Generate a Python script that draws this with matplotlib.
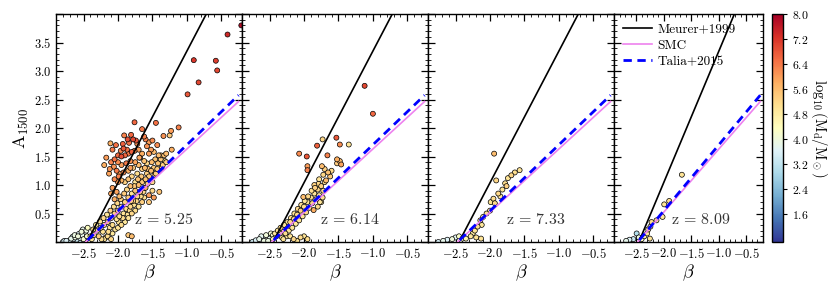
#!/usr/bin/env python3
"""A_1500 vs beta for four redshifts, coloured by dust mass."""

import matplotlib
matplotlib.use("Agg")
import matplotlib.pyplot as plt
import numpy as np
from matplotlib.ticker import FuncFormatter, MultipleLocator

plt.rcParams["mathtext.fontset"] = "cm"
plt.rcParams["font.family"] = ["cmr10", "DejaVu Serif"]
plt.rcParams["axes.unicode_minus"] = False

REDSHIFTS = ["5.25", "6.14", "7.33", "8.09"]

# ---- z = 5.25 ----
beta_z525 = [
    -0.41, -0.90, -0.58, -0.56, -0.83, -0.99, -0.21,
    -1.76, -1.45, -1.12, -1.65, -1.23, -1.34, -1.25, -1.91, -1.81, -1.78, -1.74, -1.84, -2.11,
    -1.60, -1.55, -1.50, -1.43, -1.96, -1.92, -2.00, -1.95, -1.90, -1.85, -1.80, -1.76, -1.70,
    -1.65, -1.55, -1.48, -1.38, -1.30, -1.22, -2.20, -2.10, -2.05, -2.00, -1.95, -1.88, -1.82,
    -1.75, -2.12, -2.02, -1.98, -1.92, -1.85, -2.05, -2.00, -1.95, -2.08, -2.02, -1.98, -2.05,
    -1.55, -1.48, -1.40, -1.60,
    -2.17, -2.13, -2.08, -2.03, -1.99, -1.93, -1.87, -1.86, -1.82, -1.72, -1.69, -1.58, -1.52,
    -2.06, -2.10, -1.62,
    -2.40, -2.35, -2.38, -2.30, -2.28, -2.25, -2.22, -2.20, -2.18, -2.15, -2.12, -2.10, -2.08,
    -2.05, -2.02, -2.00, -1.98, -1.95, -1.92, -1.90, -1.88, -1.85, -1.82, -1.80, -1.78, -1.75,
    -1.72, -1.70, -1.68, -1.65, -1.62, -1.60, -1.58, -1.55, -1.52, -1.50, -1.48, -1.45, -1.42,
    -1.40, -1.38, -1.35, -1.32,
    -2.36, -2.32, -2.26, -2.24, -2.21, -2.16, -2.14, -2.11, -2.06, -2.04, -2.01, -1.99, -1.96,
    -1.93, -1.91, -1.87, -1.86, -1.83, -1.81, -1.77, -1.76, -1.73, -1.71, -1.67, -1.66, -1.63,
    -1.61, -1.57, -1.56, -1.53, -1.51, -1.47, -1.46, -1.43, -1.41, -1.37, -1.33, -1.30,
    -1.90, -1.85, -1.80, -1.78, -1.72, -1.70, -1.65, -1.62, -1.68, -1.58, -1.75, -1.82,
    -2.00, -1.95, -1.90, -1.85, -1.80, -1.75, -1.70, -1.65, -1.62, -1.55, -1.50, -2.15, -2.08,
    -1.85, -1.80, -2.20, -2.10,
    -2.80, -2.75, -2.70, -2.68, -2.65, -2.62, -2.60, -2.58, -2.55, -2.52, -2.50, -2.48, -2.46,
    -2.45, -2.42, -2.72, -2.78, -2.66, -2.63, -2.57, -2.53, -2.51, -2.44, -2.43, -2.56, -2.49,
]
a_z525 = [
    3.64, 3.19, 3.18, 3.01, 2.80, 2.59, 3.80,
    2.10, 2.09, 2.01, 1.98, 1.95, 1.86, 1.87, 1.87, 1.88, 1.80, 1.78, 1.74, 1.73,
    1.80, 1.75, 1.78, 1.70, 1.60, 1.64, 1.52, 1.50, 1.52, 1.55, 1.58, 1.60, 1.62,
    1.55, 1.55, 1.58, 1.52, 1.55, 1.62, 1.35, 1.40, 1.45, 1.40, 1.35, 1.38, 1.42,
    1.40, 1.28, 1.25, 1.20, 1.22, 1.25, 1.10, 1.05, 1.08, 0.95, 0.88, 0.80, 0.75,
    0.82, 0.78, 0.88, 0.95,
    1.48, 1.20, 1.62, 1.70, 1.15, 1.72, 1.62, 1.80, 1.30, 1.72, 1.48, 1.68, 1.62,
    1.32, 0.85, 1.85,
    0.10, 0.12, 0.05, 0.20, 0.10, 0.25, 0.18, 0.30, 0.08, 0.35, 0.25, 0.42, 0.30,
    0.50, 0.40, 0.55, 0.45, 0.62, 0.50, 0.70, 0.58, 0.78, 0.62, 0.85, 0.72, 0.90,
    0.80, 1.00, 0.88, 1.05, 0.95, 1.10, 1.20, 1.15, 1.25, 1.05, 1.30, 1.20, 1.38,
    1.25, 1.45, 1.35, 1.42,
    0.22, 0.30, 0.36, 0.05, 0.42, 0.48, 0.18, 0.55, 0.62, 0.22, 0.68, 0.35, 0.75,
    0.42, 0.85, 0.92, 0.48, 0.55, 0.72, 0.65, 0.98, 0.72, 1.10, 0.80, 1.15, 0.88,
    1.30, 1.02, 1.28, 1.10, 1.40, 1.18, 1.45, 1.28, 1.52, 1.30, 1.52, 1.40,
    1.05, 1.10, 1.15, 1.30, 1.20, 1.35, 1.28, 1.42, 1.48, 1.38, 1.05, 0.98,
    0.25, 0.30, 0.35, 0.42, 0.50, 0.55, 0.62, 0.70, 0.78, 0.70, 0.90, 0.10, 0.15,
    0.12, 0.10, 0.05, 0.05,
    0.00, 0.02, 0.03, 0.06, 0.05, 0.08, 0.04, 0.10, 0.07, 0.12, 0.05, 0.15, 0.20,
    0.10, 0.08, 0.00, 0.02, 0.09, 0.12, 0.14, 0.18, 0.22, 0.25, 0.02, 0.02, 0.10,
]
m_z525 = [
    7.4, 7.2, 7.1, 7.0, 7.0, 6.8, 7.8,
    6.6, 6.5, 6.3, 6.4, 6.0, 6.1, 5.4, 6.3, 6.6, 7.0, 6.8, 6.5, 5.8,
    6.3, 6.0, 6.2, 6.2, 6.3, 6.8, 6.6, 6.9, 6.6, 6.4, 6.7, 6.2, 6.0,
    5.8, 6.0, 5.6, 5.4, 5.6, 5.8, 5.8, 6.3, 6.5, 6.2, 6.0, 6.4, 6.1,
    5.9, 6.1, 6.4, 6.0, 6.2, 5.8, 6.2, 6.0, 5.7, 6.0, 5.9, 5.6, 5.8,
    6.0, 6.0, 5.5, 5.8,
    6.0, 5.9, 6.4, 6.5, 6.3, 6.7, 6.5, 6.9, 6.0, 6.1, 5.9, 6.1, 6.0,
    6.1, 5.9, 6.3,
    5.0, 5.2, 4.9, 5.0, 5.3, 5.1, 5.0, 5.2, 5.0, 5.4, 5.0, 5.2, 5.1,
    5.3, 5.0, 5.4, 5.1, 5.2, 5.0, 5.3, 5.1, 5.4, 5.2, 5.0, 5.3, 5.5,
    5.2, 5.6, 5.3, 5.4, 5.2, 5.5, 5.3, 5.4, 5.6, 5.2, 5.4, 5.3, 5.5,
    5.2, 5.4, 5.3, 5.1,
    5.1, 4.9, 5.0, 5.1, 5.2, 5.0, 5.1, 5.3, 5.1, 5.0, 5.2, 5.0, 5.3,
    5.1, 5.4, 5.2, 5.0, 5.1, 5.3, 5.0, 5.4, 5.2, 5.5, 5.1, 5.4, 5.2,
    5.6, 5.3, 5.5, 5.2, 5.6, 5.3, 5.5, 5.4, 5.6, 5.2, 5.5, 5.3,
    5.3, 5.5, 5.2, 5.4, 5.1, 5.6, 5.3, 5.5, 5.7, 5.2, 5.0, 5.6,
    5.0, 5.1, 4.9, 5.0, 5.2, 5.1, 5.0, 5.3, 5.1, 5.4, 5.2, 5.1, 4.9,
    5.4, 5.6, 5.0, 5.2,
    3.4, 3.6, 3.2, 3.8, 3.5, 3.9, 3.3, 4.0, 3.6, 3.8, 4.1, 3.7, 3.9,
    4.2, 4.0, 3.0, 3.5, 3.4, 3.9, 3.6, 4.0, 3.8, 4.3, 4.0, 3.2, 3.5,
]

# ---- z = 6.14 ----
beta_z614 = [
    -1.12, -1.00, -1.53, -1.73, -1.81, -1.48, -1.35, -2.07, -1.96, -1.66, -1.52, -1.48, -1.52,
    -1.46, -1.95, -1.95, -1.74, -1.70, -1.65, -1.72, -1.62, -1.68, -1.78, -1.85, -1.60, -2.01,
    -1.86,
    -2.45, -2.40, -2.35, -2.32, -2.30, -2.27, -2.25, -2.22, -2.20, -2.17, -2.15, -2.12, -2.10,
    -2.07, -2.05, -2.02, -2.00, -1.97, -1.95, -1.92, -1.90, -1.88, -1.85, -1.82, -1.80, -1.78,
    -1.75, -1.72, -1.80, -1.75, -2.20, -2.15, -2.10, -2.05,
    -2.42, -2.38, -2.34, -2.29, -2.24, -2.19, -2.14, -2.09, -2.04, -1.99, -1.94, -1.89, -1.84,
    -1.79, -1.77, -1.73, -1.70, -2.30, -2.25, -2.00, -1.95,
    -2.75, -2.70, -2.65, -2.60, -2.58, -2.55, -2.50, -2.48, -2.62, -2.52, -2.45, -2.68,
]
a_z614 = [
    2.74, 2.25, 1.83, 1.80, 1.69, 1.71, 1.71, 1.55, 1.50, 1.52, 1.45, 1.42, 1.38,
    1.36, 1.33, 1.26, 1.33, 1.28, 1.22, 1.18, 1.15, 1.08, 1.10, 1.00, 1.25, 0.79,
    0.56,
    0.05, 0.10, 0.15, 0.08, 0.22, 0.15, 0.28, 0.20, 0.35, 0.25, 0.40, 0.32, 0.48,
    0.38, 0.55, 0.45, 0.62, 0.52, 0.70, 0.60, 0.78, 0.68, 0.85, 0.75, 0.92, 0.82,
    0.98, 0.90, 0.62, 0.70, 0.10, 0.05, 0.02, 0.08,
    0.15, 0.20, 0.25, 0.30, 0.35, 0.42, 0.50, 0.58, 0.65, 0.72, 0.80, 0.90, 0.95,
    1.02, 0.70, 0.78, 1.05, 0.05, 0.10, 0.10, 0.05,
    0.00, 0.03, 0.05, 0.08, 0.02, 0.12, 0.06, 0.15, 0.10, 0.02, 0.12, 0.00,
]
m_z614 = [
    7.0, 6.6, 6.8, 5.2, 6.7, 6.2, 5.0, 6.2, 6.8, 6.3, 5.8, 5.6, 5.4,
    5.9, 6.0, 6.3, 5.6, 5.3, 5.5, 5.2, 5.4, 5.6, 5.0, 5.3, 5.2, 5.6,
    5.8,
    4.6, 4.8, 5.0, 4.9, 5.0, 5.1, 4.9, 5.0, 5.2, 5.0, 5.1, 4.9, 5.2,
    5.0, 5.3, 5.0, 5.1, 5.2, 5.0, 5.3, 5.1, 5.2, 5.0, 5.4, 5.2, 5.0,
    5.3, 5.1, 5.2, 5.0, 5.0, 5.2, 5.0, 5.1,
    4.9, 5.0, 5.1, 5.0, 4.9, 5.1, 5.0, 5.2, 5.1, 5.0, 5.2, 5.1, 5.3,
    5.2, 5.0, 5.1, 5.2, 5.0, 4.9, 5.0, 5.1,
    3.4, 3.6, 3.8, 3.5, 3.9, 4.0, 3.7, 4.1, 3.7, 3.9, 4.2, 3.3,
]

# ---- z = 7.33 ----
beta_z733 = [
    -1.94, -1.91, -1.57, -1.64, -1.69, -1.74, -1.78, -1.76, -1.82, -1.88, -1.85, -1.95, -1.99,
    -1.93, -2.05, -2.10, -2.00, -2.14, -2.18, -2.12, -2.22, -2.25, -2.13, -2.28, -2.20, -2.35,
    -2.75, -2.68, -2.62, -2.55, -2.50, -2.45, -2.40,
]
a_z733 = [
    1.55, 1.08, 1.26, 1.22, 1.17, 1.12, 1.03, 0.98, 0.92, 0.85, 0.80, 0.76, 0.70,
    0.68, 0.50, 0.44, 0.55, 0.38, 0.27, 0.30, 0.20, 0.15, 0.06, 0.10, 0.08, 0.06,
    0.00, 0.02, 0.04, 0.05, 0.08, 0.10, 0.06,
]
m_z733 = [
    5.6, 5.2, 5.0, 5.1, 5.2, 5.0, 5.1, 5.3, 5.0, 5.2, 5.0, 5.1, 5.0,
    5.2, 5.1, 5.0, 4.9, 5.0, 5.1, 4.9, 5.0, 4.8, 5.0, 4.9, 5.0, 4.6,
    3.5, 3.8, 3.6, 4.0, 3.7, 4.2, 4.4,
]

# ---- z = 8.09 ----
beta_z809 = [
    -1.67, -1.90, -1.99, -2.02, -2.13, -2.22, -2.24, -2.25, -2.30, -2.35, -2.28,
    -2.49, -2.55, -2.62, -2.68, -2.40, -2.45,
]
a_z809 = [
    1.18, 0.72, 0.66, 0.44, 0.38, 0.35, 0.27, 0.06, 0.15, 0.10, 0.22,
    0.15, 0.05, 0.04, 0.02, 0.05, 0.08,
]
m_z809 = [
    5.0, 5.1, 5.0, 4.9, 5.0, 5.1, 4.9, 5.0, 4.9, 4.8, 5.0,
    3.0, 3.3, 3.6, 3.8, 4.3, 3.9,
]

# attenuation relations: A = slope * (beta - beta0)
MEURER = (2.31, -2.45)
SMC = (1.11, -2.47)
TALIA = (1.16, -2.47)

CB_TICKS = [1.6, 2.4, 3.2, 4.0, 4.8, 5.6, 6.4, 7.2, 8.0]


def mfmt(v, _pos):
    return f"${v:.1f}$"


def style_ax(ax, show_y):
    ax.set_xlim(-2.9, -0.2)
    ax.set_ylim(0, 4.0)
    ax.xaxis.set_major_locator(MultipleLocator(0.5))
    ax.xaxis.set_minor_locator(MultipleLocator(0.1))
    ax.yaxis.set_major_locator(MultipleLocator(0.5))
    ax.yaxis.set_minor_locator(MultipleLocator(0.1))
    ax.tick_params(which="both", direction="in", top=True, right=True, labelsize=9)
    ax.tick_params(which="major", length=5, width=0.9)
    ax.tick_params(which="minor", length=2.5, width=0.6)
    ax.xaxis.set_major_formatter(FuncFormatter(lambda v, p: "" if abs(v + 3.0) < 1e-6 or v > -0.3 else mfmt(v, p)))
    if show_y:
        ax.yaxis.set_major_formatter(FuncFormatter(lambda v, p: "" if v < 0.1 or v > 3.9 else mfmt(v, p)))
        ax.set_ylabel(r"$\mathrm{A}_{1500}$", fontsize=13, labelpad=2)
    else:
        ax.yaxis.set_major_formatter(FuncFormatter(lambda v, p: ""))
    ax.set_xlabel(r"$\beta$", fontsize=13, labelpad=1)
    for s in ax.spines.values():
        s.set_linewidth(1.0)


def main():
    fig = plt.figure(figsize=(8.3, 2.84), dpi=100)
    W, H = 830.0, 284.0
    bottom, top = 242.0, 14.0
    lefts = [56, 242, 428, 614]
    widths = [186, 186, 186, 149]
    data = [
        (beta_z525, a_z525, m_z525),
        (beta_z614, a_z614, m_z614),
        (beta_z733, a_z733, m_z733),
        (beta_z809, a_z809, m_z809),
    ]
    sc = None
    for i, (l, w) in enumerate(zip(lefts, widths)):
        ax = fig.add_axes([l / W, (H - bottom) / H, w / W, (bottom - top) / H])
        b, a, m = (np.asarray(v, dtype=float) for v in data[i])
        order = np.argsort(m)
        sc = ax.scatter(b[order], a[order], c=m[order], cmap="RdYlBu_r", vmin=0.7, vmax=8.0,
                        s=13, edgecolors="black", linewidths=0.5, zorder=2)
        bm = np.linspace(MEURER[1], -0.2, 50)
        ax.plot(bm, MEURER[0] * (bm - MEURER[1]), color="black", lw=1.2, zorder=3, label="Meurer+1999")
        bs = np.linspace(SMC[1], -0.25, 50)
        ax.plot(bs, SMC[0] * (bs - SMC[1]), color="violet", lw=1.2, zorder=3, label="SMC")
        bt = np.linspace(TALIA[1] + 0.03, -0.25, 50)
        ax.plot(bt, TALIA[0] * (bt - TALIA[1]), color="blue", lw=2.0, ls=(0, (3, 2)), zorder=4,
                label="Talia+2015")
        ax.text(0.58, 0.1, rf"$\mathrm{{z}}\,=\,{REDSHIFTS[i]}$", transform=ax.transAxes,
                ha="center", va="center", fontsize=11.5, color="#333333")
        style_ax(ax, i == 0)
        if i == 3:
            ax.legend(loc="upper left", frameon=False, handlelength=2.2,
                      borderaxespad=0.3, labelspacing=0.3, handletextpad=0.4,
                      prop={"family": "cmr10", "size": 9.5})

    cax = fig.add_axes([772 / W, (H - bottom) / H, 11 / W, (bottom - top) / H])
    cb = fig.colorbar(sc, cax=cax, ticks=CB_TICKS)
    cb.ax.yaxis.set_major_formatter(FuncFormatter(mfmt))
    cb.ax.tick_params(labelsize=8.5, length=3)
    cb.outline.set_linewidth(1.0)
    fig.text(819 / W, (H - (bottom + top) / 2) / H, r"$\log_{10}(\mathrm{M_d/M_\odot})$",
             fontsize=10.5, rotation=270, ha="center", va="center")

    fig.savefig("out.png", dpi=100)
    plt.close(fig)


if __name__ == "__main__":
    main()
